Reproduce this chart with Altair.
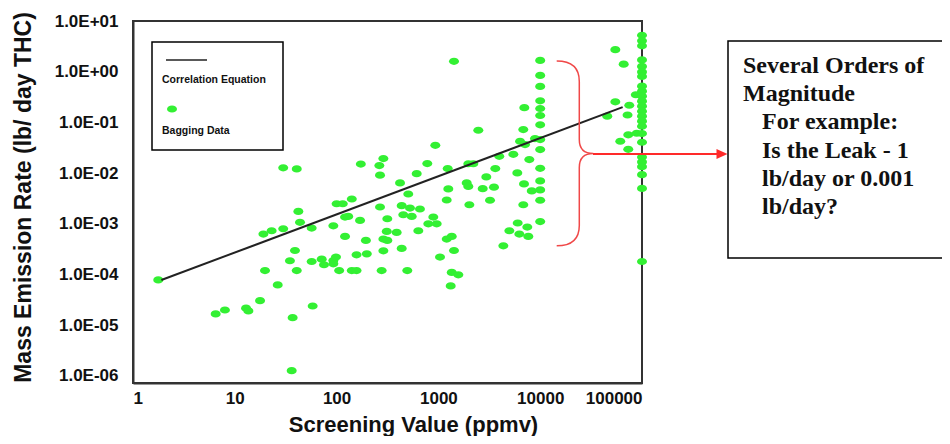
import altair as alt
import pandas as pd

# ---------------- data ----------------
x_ticks = [1, 10, 100, 1000, 10000, 100000]
y_ticks = [1e-6, 1e-5, 1e-4, 1e-3, 1e-2, 1e-1, 1, 10]

sv_main = [1.77, 6.49, 8.0, 12.9, 13.6, 17.7, 19.1, 19.8, 23.0, 26.4,
           29.9, 29.9, 34.8, 36.2, 37.0, 39.0, 40.6, 40.6, 42.1, 43.7,
           56.9, 56.9, 58.2, 71.4, 75.2, 92.9, 92.9, 98.6, 92.9, 100,
           115, 106, 121, 130, 121, 141, 141, 157, 157, 170,
           173, 194, 198, 263, 288, 267, 267, 277, 288, 315,
           311, 389, 315, 288, 420, 436, 452, 436, 495, 506,
           526, 547, 659, 612, 635, 778, 796, 962, 891, 933,
           1037, 1207, 1352, 1207, 1234, 1251, 1321, 1352, 1570, 1423,
           1423, 1897, 1968, 1968, 2203, 2014, 2466, 2723, 2955, 3213,
           3516, 3623, 3963, 4345, 4977, 5445, 5957, 6012, 6237, 6338,
           6823, 6823, 6934, 6984, 7096, 7468, 7641, 7818, 8260, 8890]
rate_main = [7.85e-5, 1.67e-5, 2.0e-5, 2.17e-5, 1.92e-5, 3.06e-5, 6.28e-4, 1.20e-4, 7.31e-4, 6.25e-5,
             8.0e-4, 1.27e-2, 1.87e-4, 1.27e-6, 1.41e-5, 2.98e-4, 1.21e-2, 1.20e-4, 1.76e-3, 1.07e-3,
             8.26e-4, 1.81e-4, 2.40e-5, 2.01e-4, 1.56e-4, 9.16e-4, 1.89e-4, 2.21e-4, 1.63e-4, 2.49e-3,
             2.49e-3, 1.20e-4, 1.36e-3, 1.40e-3, 5.64e-4, 3.09e-3, 1.20e-4, 1.20e-4, 2.45e-4, 1.17e-3,
             1.51e-2, 4.70e-4, 2.56e-4, 1.41e-2, 1.94e-2, 9.12e-3, 2.15e-3, 1.20e-4, 5.01e-4, 4.70e-4,
             7.08e-4, 6.76e-4, 1.26e-3, 2.94e-4, 6.40e-3, 2.28e-3, 1.51e-3, 3.27e-4, 1.20e-4, 3.88e-3,
             2.05e-3, 1.40e-3, 1.96e-3, 9.77e-3, 7.31e-4, 1.54e-2, 1.00e-3, 1.00e-3, 1.36e-3, 3.54e-2,
             2.21e-4, 5.01e-4, 5.64e-4, 2.95e-3, 1.23e-2, 4.88e-3, 5.98e-5, 1.10e-4, 9.86e-5, 2.98e-4,
             1.60, 6.40e-3, 5.48e-3, 1.53e-2, 1.53e-2, 2.38e-3, 7.01e-2, 4.94e-3, 8.41e-3, 2.92e-3,
             5.28e-3, 1.23e-2, 2.15e-2, 3.69e-4, 7.31e-4, 2.35e-2, 1.01e-2, 1.04e-3, 6.28e-4, 4.25e-2,
             2.38e-3, 7.24e-2, 6.12e-3, 0.195, 3.66e-2, 8.65e-4, 5.64e-4, 1.85e-2, 4.45e-3, 4.81e-2]

# points pegged at 10,000 ppmv
sv_10k = [10000, 10000, 10000, 10000, 10000, 10000, 10000,
          10000, 10000, 10000, 10000, 10000, 10000, 10000]
rate_10k = [1.67, 0.845, 0.512, 0.267, 0.188, 0.137, 0.0897,
            0.0459, 0.0291, 0.01245, 0.00701, 0.00466, 0.00292, 0.00111]

# points between 10,000 and 100,000 ppmv
sv_hi = [45600, 54700, 66100, 54700, 75000, 72100, 86900, 73300, 88700, 61200, 73300]
rate_hi = [0.133, 2.72, 1.41, 0.255, 0.218, 0.140, 0.351, 0.0569, 0.0612, 0.0425, 0.0295]

# points pegged at 100,000 ppmv
sv_100k = [100000, 100000, 100000, 100000, 100000, 100000, 100000, 100000,
           100000, 100000, 100000, 100000, 100000, 100000, 100000, 100000,
           100000, 100000, 100000, 100000, 100000, 100000, 100000, 100000]
rate_100k = [5.21, 4.06, 3.24, 1.71, 1.27, 0.99, 0.807, 0.519,
             0.414, 0.330, 0.262, 0.209, 0.166, 0.133, 0.106, 0.0841,
             0.0604, 0.0406, 0.0207, 0.0166, 0.0134, 0.00934, 0.00499, 0.000181]

# correlation equation end points
line_sv = [1.9, 64600]
line_rate = [7.8e-5, 0.20]

legend_labels = ["Correlation Equation", "Bagging Data"]
note_head = ["Several Orders of", "Magnitude"]
note_body = ["For example:", "Is the Leak - 1", "lb/day or 0.001", "lb/day?"]

# ---------------- chart ----------------
GREEN = "#33F033"
RED = "#FF2A2A"
ELLIPSE = ("M -1 0 C -1 -0.398 -0.552 -0.72 0 -0.72 C 0.552 -0.72 1 -0.398 1 0 "
           "C 1 0.398 0.552 0.72 0 0.72 C -0.552 0.72 -1 0.398 -1 0 Z")
BRACE = ("M -0.183 -0.924 Q 0.043 -0.924 0.043 -0.72 L 0.043 -0.14 Q 0.043 0 0.183 0 "
         "Q 0.043 0 0.043 0.14 L 0.043 0.72 Q 0.043 0.924 -0.183 0.924")
ARROW = "M -1 -0.9 L 1 0 L -1 0.9 Z"

pts = pd.DataFrame({
    "sv": sv_main + sv_10k + sv_hi + sv_100k,
    "rate": rate_main + rate_10k + rate_hi + rate_100k,
})
ln = pd.DataFrame({"sv": line_sv, "rate": line_rate})
one = pd.DataFrame({"k": [0]})

xscale = alt.Scale(type="log", domain=[1, 100000], nice=False)
yscale = alt.Scale(type="log", domain=[7.27e-7, 10], nice=False)

y_label_expr = ("'1.0E' + (round(log(datum.value)/LN10) >= 0 ? '+' : '-') + "
                "(abs(round(log(datum.value)/LN10)) < 10 ? '0' : '') + "
                "abs(round(log(datum.value)/LN10))")

xaxis = alt.Axis(values=x_ticks, format="d", labelOverlap=False,
                 title="Screening Value (ppmv)", titleX=280, titleY=48,
                 titleAlign="center", titleBaseline="alphabetic", titleFontSize=22,
                 labelPadding=7, tickSize=0, ticks=False)
yaxis = alt.Axis(values=y_ticks, labelExpr=y_label_expr, labelOverlap=False,
                 title="Mass Emission Rate (lb/ day THC)", titleX=-110, titleY=176,
                 titleAngle=270, titleAlign="center", titleBaseline="middle",
                 labelPadding=15, tickSize=0, ticks=False)

points = alt.Chart(pts).mark_point(shape=ELLIPSE, filled=True, size=100, color=GREEN,
                                   opacity=1).encode(
    x=alt.X("sv:Q", scale=xscale, axis=xaxis),
    y=alt.Y("rate:Q", scale=yscale, axis=yaxis),
)

corr = alt.Chart(ln).mark_line(color="#222222", strokeWidth=2).encode(
    x="sv:Q", y="rate:Q")

deco = alt.Chart(one)

leg_box = deco.mark_rect(fill="white", fillOpacity=0, stroke="black", strokeWidth=1.5).encode(
    x=alt.value(19), x2=alt.value(150), y=alt.value(21), y2=alt.value(129))
leg_line = deco.mark_rule(color="#222222", strokeWidth=1.5).encode(
    x=alt.value(33), x2=alt.value(74), y=alt.value(39))
leg_t1 = deco.mark_text(text=legend_labels[0], align="left", baseline="middle",
                        font="Liberation Sans", fontSize=10.5, fontWeight="bold",
                        color="#111111").encode(x=alt.value(29), y=alt.value(59))
leg_dot = deco.mark_point(shape=ELLIPSE, filled=True, size=100, color=GREEN, opacity=1).encode(
    x=alt.value(39), y=alt.value(88))
leg_t2 = deco.mark_text(text=legend_labels[1], align="left", baseline="middle",
                        font="Liberation Sans", fontSize=10.5, fontWeight="bold",
                        color="#111111").encode(x=alt.value(29), y=alt.value(110))

brace = deco.mark_point(shape=BRACE, filled=False, size=40000, color="#F04848",
                        strokeWidth=1.5, opacity=1).encode(x=alt.value(442), y=alt.value(132.4))
arrow_line = deco.mark_rule(color=RED, strokeWidth=2).encode(
    x=alt.value(460), x2=alt.value(586), y=alt.value(133))
arrow_head = deco.mark_point(shape=ARROW, filled=True, size=121, color=RED, opacity=1).encode(
    x=alt.value(589), y=alt.value(133))

note_box = deco.mark_rect(fill="white", stroke="black", strokeWidth=1.5).encode(
    x=alt.value(595), x2=alt.value(840), y=alt.value(20), y2=alt.value(237))
note1 = deco.mark_text(text=note_head, align="left", baseline="alphabetic",
                       font="Liberation Serif", fontSize=24, fontWeight="bold",
                       lineHeight=28.3, color="#111111").encode(x=alt.value(610), y=alt.value(51.7))
note2 = deco.mark_text(text=note_body, align="left", baseline="alphabetic",
                       font="Liberation Serif", fontSize=24, fontWeight="bold",
                       lineHeight=28.3, color="#111111").encode(x=alt.value(629), y=alt.value(108.3))

chart = alt.layer(
    points, corr, leg_box, leg_line, leg_t1, leg_dot, leg_t2,
    brace, arrow_line, arrow_head, note_box, note1, note2
).properties(
    width=509, height=362,
    autosize=alt.AutoSizeParams(type="none"),
    padding={"left": 125, "top": 13, "right": 300, "bottom": 53},
).configure_view(
    stroke="#333333", strokeWidth=2
).configure_axis(
    domainColor="#333333", domainWidth=2, grid=False,
    labelFont="Liberation Sans", labelFontWeight="bold", labelFontSize=17, labelColor="#111111",
    titleFont="Liberation Sans", titleFontWeight="bold", titleFontSize=23, titleColor="#111111",
)

chart.save("out.html", embed_options={"renderer": "svg", "actions": False})
